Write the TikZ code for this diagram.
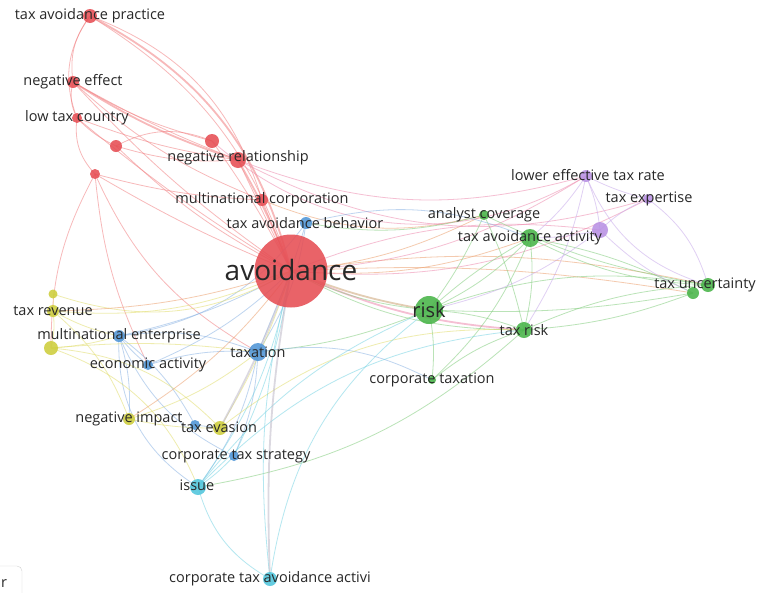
\documentclass[tikz,border=0pt]{standalone}
\usepackage{fontspec}
\setmainfont{Open Sans}
\usetikzlibrary{positioning, backgrounds}

\definecolor{nred}{RGB}{230,78,84}
\definecolor{ngreen}{RGB}{72,180,72}
\definecolor{nblue}{RGB}{80,150,215}
\definecolor{nyellow}{RGB}{205,205,60}
\definecolor{ncyan}{RGB}{80,198,220}
\definecolor{npurple}{RGB}{185,145,228}
\definecolor{ered}{RGB}{242,128,130}
\definecolor{egreen}{RGB}{130,205,125}
\definecolor{eblue}{RGB}{140,180,228}
\definecolor{eyellow}{RGB}{226,222,110}
\definecolor{ecyan}{RGB}{120,212,228}
\definecolor{epurple}{RGB}{200,170,235}
\definecolor{epink}{RGB}{238,140,175}
\definecolor{eorange}{RGB}{236,160,110}
\definecolor{ebrown}{RGB}{205,165,120}
\definecolor{egray}{RGB}{190,185,200}
\definecolor{labeltext}{RGB}{40,40,40}

\tikzset{
  kw/.style={circle, inner sep=0pt, draw=none, fill opacity=0.88},
  rednode/.style={kw, fill=nred},
  greennode/.style={kw, fill=ngreen},
  bluenode/.style={kw, fill=nblue},
  yellownode/.style={kw, fill=nyellow},
  cyannode/.style={kw, fill=ncyan},
  purplenode/.style={kw, fill=npurple},
  lbl/.style={inner sep=0pt, text=labeltext, font=\fontsize{14.5}{17}\selectfont},
  link/.style={line width=0.8pt, opacity=0.55},
  fat/.style={line width=1.8pt, opacity=0.55}
}

\begin{document}
\begin{tikzpicture}[x=1pt, y=-1pt]

    \useasboundingbox (0,0) rectangle (757,592);

    % red cluster
    \node (av) [rednode, minimum size=73pt] at (291,271) {};
    \node (tap) [rednode, minimum size=14pt] at (90,16) {};
    \node (neff) [rednode, minimum size=12pt] at (73,82) {};
    \node (ltc) [rednode, minimum size=10pt] at (77,118) {};
    \node (ra) [rednode, minimum size=12pt] at (116,146) {};
    \node (rb) [rednode, minimum size=10pt] at (95,174) {};
    \node (rc) [rednode, minimum size=14pt] at (212,141) {};
    \node (nrel) [rednode, minimum size=16pt] at (238,160) {};
    \node (mnc) [rednode, minimum size=12pt] at (262,200) {};

    % blue cluster
    \node (tab) [bluenode, minimum size=12pt] at (306,223) {};
    \node (mne) [bluenode, minimum size=12pt] at (119,336) {};
    \node (eca) [bluenode, minimum size=10pt] at (148,365) {};
    \node (tx) [bluenode, minimum size=18pt] at (258,352) {};
    \node (ba) [bluenode, minimum size=10pt] at (195,425) {};
    \node (cts) [bluenode, minimum size=10pt] at (234,456) {};

    % yellow cluster
    \node (ya) [yellownode, minimum size=9pt] at (53,294) {};
    \node (trev) [yellownode, minimum size=12pt] at (53,311) {};
    \node (yb) [yellownode, minimum size=14pt] at (51,348) {};
    \node (nimp) [yellownode, minimum size=12pt] at (129,419) {};
    \node (tev) [yellownode, minimum size=14pt] at (220,428) {};

    % cyan cluster
    \node (iss) [cyannode, minimum size=16pt] at (198,487) {};
    \node (ctaa) [cyannode, minimum size=14pt] at (270,579) {};

    % green cluster
    \node (risk) [greennode, minimum size=28pt] at (429,310) {};
    \node (anc) [greennode, minimum size=10pt] at (484,215) {};
    \node (taa) [greennode, minimum size=18pt] at (530,238) {};
    \node (trisk) [greennode, minimum size=16pt] at (524,330) {};
    \node (tua) [greennode, minimum size=14pt] at (708,285) {};
    \node (tub) [greennode, minimum size=12pt] at (693,293) {};
    \node (ctax) [greennode, minimum size=8pt] at (432,380) {};

    % purple cluster
    \node (letr) [purplenode, minimum size=12pt] at (586,176) {};
    \node (tex) [purplenode, minimum size=10pt] at (648,199) {};
    \node (pa) [purplenode, minimum size=16pt] at (600,230) {};

    % links
    \begin{scope}[on background layer]
        \fill[white] (0,0) rectangle (757,592);
        \foreach \a/\b/\t in {tap/av/20, tap/mnc/26, neff/nrel/-4, neff/av/-6, ltc/av/-4, ra/av/-8, rb/av/-4, rc/av/4, nrel/av/0, mnc/av/0, tap/neff/-22, tap/ltc/-28, neff/ltc/-20, ltc/rb/-25, neff/rc/-8, ltc/ra/-10, ra/rc/25, ltc/nrel/-6, rb/mnc/-6, ra/nrel/-10, rb/tx/-18, rb/eca/-10, neff/mnc/-10, rb/yb/-14}
            \draw[link, ered] (\a.center) to[bend left=\t] (\b.center);
        \foreach \a/\b/\t in {tap/av/24, neff/nrel/-7, nrel/av/4}
            \draw[fat, ered] (\a.center) to[bend left=\t] (\b.center);
        \draw[fat, ebrown] (av.center) to[bend right=6] (risk.center);
        \draw[fat, epink] (av.center) to[bend right=10] (trisk.center);
        \foreach \a/\b/\t in {av/taa/-12, mnc/anc/-18, av/anc/-10, av/tua/10, av/tub/6}
            \draw[link, eorange] (\a.center) to[bend left=\t] (\b.center);
        \foreach \a/\b/\t in {rc/letr/-36, nrel/letr/-18, av/letr/-14, av/tex/-16, av/pa/14, nrel/tex/-22}
            \draw[link, epink] (\a.center) to[bend left=\t] (\b.center);

        \foreach \a/\b/\t in {risk/taa/-10, risk/taa/6, risk/anc/-6, risk/trisk/8, risk/tua/14, risk/tub/-6, trisk/tua/10, trisk/tub/-8, taa/tua/-12, taa/tub/8, anc/tua/-8, taa/trisk/10, anc/trisk/6, risk/ctax/8, ctax/taa/-12, ctax/trisk/10, risk/tx/8, av/risk/-10, av/trisk/-14, tab/anc/-12, trisk/iss/16}
            \draw[link, egreen] (\a.center) to[bend left=\t] (\b.center);
        \foreach \a/\b/\t in {letr/pa/8, tex/pa/-10, letr/tex/-6, letr/tua/-25, tex/tua/18, pa/tub/-10, letr/taa/8, pa/taa/6, letr/trisk/10, pa/risk/12}
            \draw[link, epurple] (\a.center) to[bend left=\t] (\b.center);

        \foreach \a/\b/\t in {tab/av/0, tab/mne/22, tab/tx/12, tab/taa/18, mne/eca/-6, mne/tx/14, mne/av/-8, mne/iss/-30, mne/cts/-20, eca/tx/10, eca/av/-10, tx/av/0, tx/cts/10, tx/iss/12, tx/ctax/18, ba/tev/0, ba/mne/-12, mne/nimp/10}
            \draw[link, eblue] (\a.center) to[bend left=\t] (\b.center);

        \foreach \a/\b/\t in {ya/trev/0, trev/yb/10, trev/av/-14, ya/av/-24, trev/mne/-8, yb/tx/6, yb/tev/20, trev/nimp/14, nimp/tev/-6, nimp/tx/-10, tev/av/-6, tev/trisk/20, yb/iss/24, yb/mne/-6}
            \draw[link, eyellow] (\a.center) to[bend left=\t] (\b.center);
        \foreach \a/\b/\t in {nimp/av/-10, trev/av/-8}
            \draw[link, eorange] (\a.center) to[bend left=\t] (\b.center);

        \foreach \a/\b/\t in {iss/ctaa/-22, av/ctaa/-10, iss/av/-12, cts/iss/6, iss/risk/14, ctaa/risk/22, cts/av/-8, iss/trisk/20}
            \draw[link, ecyan] (\a.center) to[bend left=\t] (\b.center);
        \draw[fat, egray] (av.center) to[bend right=6] (ctaa.center);
        \draw[fat, egray] (av.center) to[bend left=4] (tev.center);
    \end{scope}

    % labels
    \node (tap-l) [lbl] at (tap) {tax avoidance practice};
    \node (neff-l) [lbl] at (neff) {negative effect};
    \node (ltc-l) [lbl] at (ltc) {low tax country};
    \node (nrel-l) [lbl] at (238,158) {negative relationship};
    \node (mnc-l) [lbl] at (262,200) {multinational corporation};
    \node (tab-l) [lbl] at (305,223) {tax avoidance behavior};
    \node (av-l) [lbl, font=\fontsize{28}{32}\selectfont] at (291,270) {avoidance};
    \node (trev-l) [lbl] at (trev) {tax revenue};
    \node (mne-l) [lbl] at (mne) {multinational enterprise};
    \node (eca-l) [lbl] at (eca) {economic activity};
    \node (tx-l) [lbl] at (tx) {taxation};
    \node (nimp-l) [lbl] at (nimp) {negative impact};
    \node (tev-l) [lbl] at (219,427) {tax evasion};
    \node (cts-l) [lbl] at (236,456) {corporate tax strategy};
    \node (iss-l) [lbl] at (197,485) {issue};
    \node (ctaa-l) [lbl] at (270,579) {corporate tax avoidance activi};
    \node (risk-l) [lbl, font=\fontsize{20}{24}\selectfont] at (429,310) {risk};
    \node (anc-l) [lbl] at (484,215) {analyst coverage};
    \node (taa-l) [lbl] at (530,238) {tax avoidance activity};
    \node (trisk-l) [lbl] at (trisk) {tax risk};
    \node (tu-l) [lbl] at (705,285) {tax uncertainty};
    \node (ctax-l) [lbl] at (432,380) {corporate taxation};
    \node (letr-l) [lbl] at (588,175) {lower effective tax rate};
    \node (tex-l) [lbl] at (649,199) {tax expertise};

    % cut-off panel at the lower left
    \draw[gray!35, rounded corners=5pt] (-12,566) rectangle (22,612);
    \node (panel-r) [lbl] at (4,584) {r};

\end{tikzpicture}
\end{document}
